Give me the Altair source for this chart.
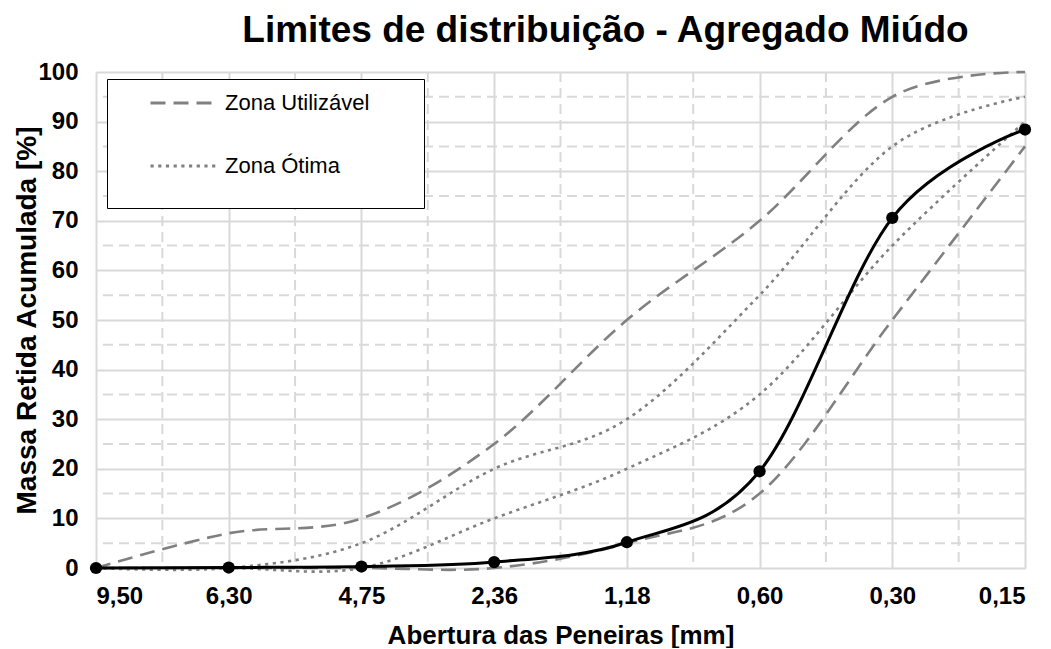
import altair as alt
import pandas as pd

# --- data ---
sieves = ["9,50", "6,30", "4,75", "2,36", "1,18", "0,60", "0,30", "0,15"]
util_inf = [0, 0, 0, 0, 5, 15, 50, 85]
util_sup = [0, 7, 10, 25, 50, 70, 95, 100]
otima_inf = [0, 0, 0, 10, 20, 35, 65, 90]
otima_sup = [0, 0, 5, 20, 30, 55, 85, 95]
amostra = [0.0, 0.1, 0.3, 1.2, 5.2, 19.5, 70.6, 88.4]

minor_x = [0.5, 1.5, 2.5, 3.5, 4.5, 5.5, 6.5]
minor_y = [5, 15, 25, 35, 45, 55, 65, 75, 85, 95]

FONT = "Liberation Sans"
GRID = "#d9d9d9"
GRAY = "#808080"

idx = list(range(len(sieves)))
zones = []
for name, serie, vals in [
    ("Zona Utilizável", "ui", util_inf),
    ("Zona Utilizável", "us", util_sup),
    ("Zona Ótima", "oi", otima_inf),
    ("Zona Ótima", "os", otima_sup),
]:
    for i, v in zip(idx, vals):
        zones.append({"i": i, "v": v, "zona": name, "serie": serie})
zones_df = pd.DataFrame(zones)
sample_df = pd.DataFrame({"i": idx, "v": amostra})
mx_df = pd.DataFrame({"x": minor_x})
my_df = pd.DataFrame({"y": minor_y})

label_expr = "[" + ",".join("'%s'" % s for s in sieves) + "][datum.value]"

xscale = alt.Scale(domain=[0, 7], nice=False, zero=False)
yscale = alt.Scale(domain=[0, 100], nice=False)

x_axis = alt.Axis(
    values=idx, labelExpr=label_expr, title="Abertura das Peneiras [mm]",
    grid=True, gridColor=GRID, gridWidth=2, domain=False, ticks=False,
    labelFontSize=24, labelFontWeight="bold", labelPadding=16, labelColor="black",
    titleFontSize=26, titleFontWeight="bold", titlePadding=14, titleColor="black",
    labelFont=FONT, titleFont=FONT,
)
y_axis = alt.Axis(
    values=list(range(0, 101, 10)), title="Massa Retida Acumulada [%]",
    grid=True, gridColor=GRID, gridWidth=2, domain=False, ticks=False,
    labelFontSize=24, labelFontWeight="bold", labelPadding=18, labelColor="black",
    titleFontSize=28, titleFontWeight="bold", titlePadding=-4, titleColor="black",
    labelFont=FONT, titleFont=FONT,
)

minor_v = alt.Chart(mx_df).mark_rule(color=GRID, strokeWidth=2, strokeDash=[10, 6]).encode(
    x=alt.X("x:Q", scale=xscale, axis=x_axis)
)
minor_h = alt.Chart(my_df).mark_rule(color=GRID, strokeWidth=2, strokeDash=[10, 6]).encode(
    y=alt.Y("y:Q", scale=yscale, axis=y_axis)
)

zone_lines = alt.Chart(zones_df).mark_line(
    color=GRAY, strokeWidth=2.6, interpolate="cardinal"
).encode(
    x=alt.X("i:Q", scale=xscale, axis=x_axis),
    y=alt.Y("v:Q", scale=yscale, axis=y_axis),
    detail="serie:N",
    strokeDash=alt.StrokeDash(
        "zona:N",
        scale=alt.Scale(domain=["Zona Utilizável", "Zona Ótima"], range=[[15, 8], [3.2, 4.5]]),
        legend=alt.Legend(
            title="\u00a0", titleOrient="bottom", titlePadding=8, titleFontSize=10,
            orient="none", legendX=11, legendY=7,
            strokeColor="black", fillColor="white", padding=6,
            rowPadding=27, clipHeight=36, symbolType="stroke", symbolSize=4225,
            symbolStrokeWidth=3, symbolStrokeColor=GRAY, symbolOffset=36,
            labelFontSize=22, labelFont=FONT, labelColor="black", labelOffset=8,
            labelLimit=400, labelExpr="datum.label + '\u2800\u2800\u2800'",
        ),
    ),
)

sample_line = alt.Chart(sample_df).mark_line(
    color="black", strokeWidth=3, interpolate="cardinal"
).encode(
    x=alt.X("i:Q", scale=xscale, axis=x_axis),
    y=alt.Y("v:Q", scale=yscale, axis=y_axis),
)
sample_pts = alt.Chart(sample_df).mark_point(
    filled=True, color="black", size=150, opacity=1, shape="circle"
).encode(
    x=alt.X("i:Q", scale=xscale, axis=x_axis),
    y=alt.Y("v:Q", scale=yscale, axis=y_axis),
)

chart = alt.layer(minor_v, minor_h, zone_lines, sample_line, sample_pts).properties(
    width=929,
    height=496,
    padding={"left": 88, "top": 64, "right": 10, "bottom": 80},
    autosize=alt.AutoSizeParams(type="none"),
    title=alt.TitleParams(
        "Limites de distribuição - Agregado Miúdo",
        fontSize=37, fontWeight="bold", font=FONT, color="black",
        anchor="middle", dx=45, offset=10,
    ),
).configure_view(stroke="black", strokeWidth=2).configure(background="white")

chart.save("out.html", embed_options={"renderer": "svg", "actions": False})
